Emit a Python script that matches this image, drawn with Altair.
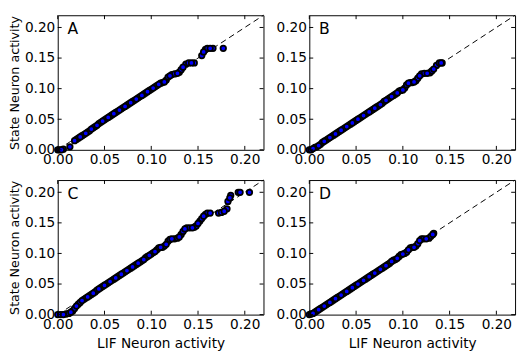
import altair as alt
import pandas as pd

tick_values = [0.0, 0.05, 0.10, 0.15, 0.20]
axis_domain = [0.0, 0.22]
diag_vals = [0.0, 0.22]
panel_letters = ["A", "B", "C", "D"]

points_A = [(0.000,0.000),(0.002,0.000),(0.004,0.000),(0.006,0.001),(0.013,0.005),
    (0.018,0.015),(0.020,0.017),(0.022,0.019),(0.024,0.021),(0.026,0.023),(0.028,0.025),
    (0.030,0.027),(0.032,0.029),(0.034,0.031),(0.036,0.034),(0.038,0.036),(0.040,0.038),
    (0.042,0.040),(0.044,0.043),(0.046,0.045),(0.048,0.047),(0.050,0.049),(0.052,0.051),
    (0.054,0.053),(0.056,0.055),(0.058,0.057),(0.060,0.059),(0.062,0.061),(0.064,0.063),
    (0.066,0.065),(0.068,0.067),(0.070,0.069),(0.072,0.071),(0.074,0.073),(0.076,0.075),
    (0.078,0.077),(0.080,0.079),(0.082,0.081),(0.084,0.083),(0.086,0.085),(0.088,0.087),
    (0.090,0.089),(0.092,0.091),(0.094,0.093),(0.096,0.095),(0.098,0.097),(0.100,0.099),
    (0.102,0.101),(0.104,0.103),(0.106,0.105),(0.108,0.107),(0.110,0.109),(0.112,0.110),
    (0.114,0.111),(0.116,0.114),(0.118,0.119),(0.120,0.121),(0.122,0.123),(0.125,0.124),
    (0.128,0.125),(0.130,0.127),(0.132,0.131),(0.134,0.135),(0.137,0.140),(0.140,0.142),
    (0.143,0.142),(0.146,0.142),(0.154,0.154),(0.156,0.160),(0.158,0.164),(0.160,0.166),
    (0.163,0.166),(0.166,0.166),(0.177,0.166)]

points_B = [(0.000,0.000),(0.002,0.000),(0.004,0.002),(0.006,0.004),(0.008,0.005),(0.010,0.007),
    (0.012,0.009),(0.014,0.012),(0.016,0.014),(0.018,0.016),(0.020,0.018),(0.022,0.020),
    (0.024,0.022),(0.026,0.024),(0.028,0.026),(0.030,0.028),(0.032,0.030),(0.034,0.032),
    (0.036,0.034),(0.038,0.036),(0.040,0.038),(0.042,0.040),(0.044,0.042),(0.046,0.044),
    (0.048,0.046),(0.050,0.048),(0.052,0.050),(0.054,0.052),(0.056,0.054),(0.058,0.056),
    (0.060,0.058),(0.062,0.060),(0.064,0.062),(0.066,0.064),(0.068,0.066),(0.070,0.068),
    (0.072,0.070),(0.074,0.072),(0.076,0.074),(0.078,0.076),(0.080,0.079),(0.082,0.081),
    (0.084,0.083),(0.086,0.085),(0.088,0.087),(0.090,0.089),(0.092,0.091),(0.094,0.093),
    (0.096,0.096),(0.098,0.097),(0.100,0.098),(0.102,0.101),(0.104,0.106),(0.106,0.109),
    (0.108,0.110),(0.110,0.110),(0.112,0.111),(0.114,0.113),(0.116,0.117),(0.118,0.121),
    (0.120,0.124),(0.123,0.125),(0.126,0.125),(0.129,0.126),(0.131,0.129),(0.133,0.132),
    (0.136,0.138),(0.139,0.142),(0.141,0.142),(0.142,0.142)]

points_C = [(0.000,0.000),(0.003,0.000),(0.006,0.000),(0.009,0.001),(0.012,0.002),(0.014,0.004),
    (0.016,0.006),(0.018,0.010),(0.020,0.014),(0.022,0.017),(0.024,0.020),(0.026,0.023),
    (0.028,0.025),(0.030,0.027),(0.032,0.029),(0.034,0.031),(0.036,0.033),(0.038,0.035),
    (0.040,0.037),(0.042,0.040),(0.044,0.042),(0.046,0.044),(0.048,0.046),(0.050,0.048),
    (0.052,0.050),(0.054,0.052),(0.056,0.054),(0.058,0.056),(0.060,0.058),(0.062,0.060),
    (0.064,0.062),(0.066,0.064),(0.068,0.066),(0.070,0.068),(0.072,0.070),(0.074,0.072),
    (0.076,0.074),(0.078,0.076),(0.080,0.078),(0.082,0.080),(0.084,0.082),(0.086,0.084),
    (0.088,0.086),(0.090,0.088),(0.092,0.090),(0.094,0.093),(0.096,0.095),(0.098,0.097),
    (0.100,0.099),(0.102,0.101),(0.104,0.103),(0.106,0.106),(0.108,0.109),(0.110,0.110),
    (0.112,0.110),(0.114,0.112),(0.116,0.115),(0.118,0.120),(0.120,0.123),(0.122,0.124),
    (0.125,0.124),(0.128,0.125),(0.130,0.127),(0.132,0.131),(0.134,0.136),(0.136,0.140),
    (0.138,0.142),(0.141,0.142),(0.144,0.142),(0.146,0.143),(0.148,0.145),(0.150,0.149),
    (0.152,0.153),(0.154,0.157),(0.156,0.161),(0.158,0.164),(0.160,0.166),(0.163,0.166),
    (0.172,0.166),(0.175,0.167),(0.178,0.169),(0.181,0.173),(0.182,0.185),(0.184,0.191),
    (0.185,0.195),(0.193,0.200),(0.195,0.200),(0.205,0.200)]

points_D = [(0.000,0.000),(0.002,0.001),(0.004,0.002),(0.006,0.004),(0.008,0.006),(0.010,0.008),
    (0.012,0.010),(0.014,0.012),(0.016,0.014),(0.018,0.016),(0.020,0.018),(0.022,0.020),
    (0.024,0.022),(0.026,0.024),(0.028,0.026),(0.030,0.028),(0.032,0.030),(0.034,0.032),
    (0.036,0.034),(0.038,0.036),(0.040,0.038),(0.042,0.040),(0.044,0.042),(0.046,0.044),
    (0.048,0.046),(0.050,0.048),(0.052,0.050),(0.054,0.052),(0.056,0.054),(0.058,0.056),
    (0.060,0.058),(0.062,0.060),(0.064,0.062),(0.066,0.064),(0.068,0.066),(0.070,0.068),
    (0.072,0.070),(0.074,0.072),(0.076,0.074),(0.078,0.076),(0.080,0.078),(0.082,0.080),
    (0.084,0.082),(0.086,0.084),(0.088,0.087),(0.090,0.089),(0.092,0.090),(0.094,0.092),
    (0.096,0.095),(0.098,0.098),(0.100,0.099),(0.102,0.100),(0.104,0.102),(0.106,0.106),
    (0.108,0.109),(0.110,0.110),(0.112,0.110),(0.114,0.112),(0.116,0.116),(0.118,0.121),
    (0.120,0.124),(0.122,0.124),(0.125,0.124),(0.128,0.125),(0.130,0.128),(0.132,0.131),
    (0.133,0.133)]

W, H = 211, 138
FONT = "DejaVu Sans"
scale = alt.Scale(domain=axis_domain, nice=False, zero=False)
ticks_df = pd.DataFrame({"t": tick_values})
diag_df = pd.DataFrame({"lif": diag_vals, "state": diag_vals})


def make_axis(title, pad, tpad, tsize):
    return alt.Axis(title=title, values=tick_values, format=".2f", ticks=False, grid=False,
                    domain=False, labelFlush=False, labelFontSize=14, labelPadding=pad,
                    labelColor="black", labelFont=FONT, titleFontSize=tsize,
                    titleFontWeight="normal", titleFont=FONT, titleColor="black",
                    titlePadding=tpad)


def panel(points, letter, ytitle, xtitle):
    df = pd.DataFrame(points, columns=["lif", "state"])
    # drawing order only: interleave so the circles overlap like the original scatter
    df["grp"] = [i % 3 for i in range(len(df))]
    df = df.sort_values("grp", kind="stable").drop(columns="grp")
    xa = make_axis(xtitle, 3, 6, 14)
    ya = make_axis(ytitle, 3, 3, 13)

    diag = alt.Chart(diag_df).mark_line(color="black", strokeWidth=1, strokeDash=[6, 4]).encode(
        x=alt.X("lif:Q", scale=scale, axis=xa),
        y=alt.Y("state:Q", scale=scale, axis=ya),
    )
    pts = alt.Chart(df).mark_point(shape="circle", filled=True, fill="#0000ff", stroke="black",
                                   strokeWidth=1.8, size=32, opacity=1).encode(
        x=alt.X("lif:Q", scale=scale, axis=xa),
        y=alt.Y("state:Q", scale=scale, axis=ya),
    )
    tb = alt.Chart(ticks_df).mark_rule(color="black", strokeWidth=1).encode(
        x=alt.X("t:Q", scale=scale, axis=xa), y=alt.value(H), y2=alt.value(H - 4))
    tt = alt.Chart(ticks_df).mark_rule(color="black", strokeWidth=1).encode(
        x=alt.X("t:Q", scale=scale, axis=xa), y=alt.value(0), y2=alt.value(4))
    tl = alt.Chart(ticks_df).mark_rule(color="black", strokeWidth=1).encode(
        y=alt.Y("t:Q", scale=scale, axis=ya), x=alt.value(0), x2=alt.value(4))
    tr = alt.Chart(ticks_df).mark_rule(color="black", strokeWidth=1).encode(
        y=alt.Y("t:Q", scale=scale, axis=ya), x=alt.value(W), x2=alt.value(W - 4))
    lab = alt.Chart(pd.DataFrame({"label": [letter]})).mark_text(
        align="left", baseline="top", fontSize=16, font=FONT, color="black").encode(
        text="label:N", x=alt.value(10), y=alt.value(6))
    return alt.layer(diag, pts, tb, tt, tl, tr, lab).properties(width=W, height=H)


pA = panel(points_A, panel_letters[0], "State Neuron activity", None)
pB = panel(points_B, panel_letters[1], None, None)
pC = panel(points_C, panel_letters[2], "State Neuron activity", "LIF Neuron activity")
pD = panel(points_D, panel_letters[3], None, "LIF Neuron activity")

chart = alt.vconcat(
    alt.hconcat(pA, pB, spacing=9),
    alt.hconcat(pC, pD, spacing=9),
    spacing=10,
).properties(
    padding=0,
    background="white",
).configure_view(stroke="black", strokeWidth=1)

chart.save("out.html", embed_options={"renderer": "svg", "actions": False})
